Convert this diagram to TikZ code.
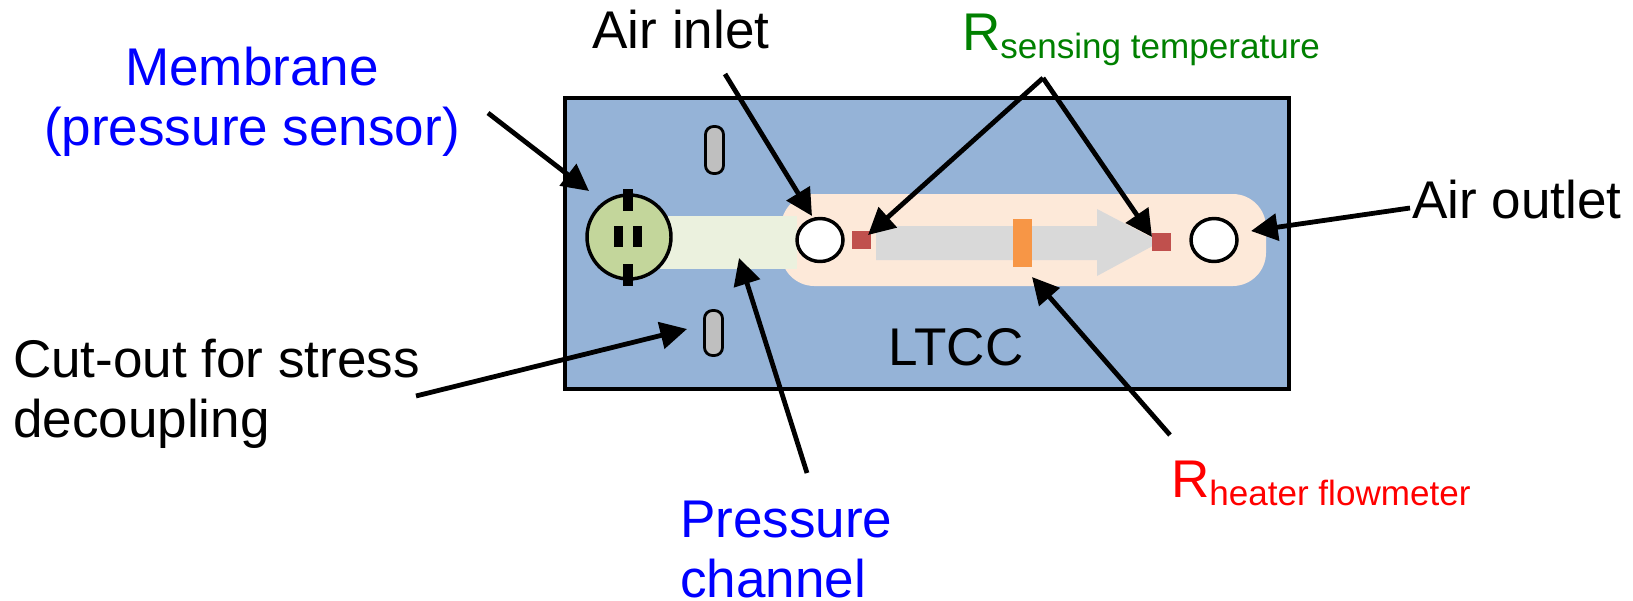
\documentclass[tikz,border=0pt]{standalone}
\usepackage{fontspec}
\setmainfont{Liberation Sans}
\usetikzlibrary{arrows.meta}
\definecolor{ltcc}{HTML}{95B3D7}
\definecolor{peach}{HTML}{FDE9D9}
\definecolor{chan}{HTML}{EBF1DE}
\definecolor{memb}{HTML}{C3D69B}
\definecolor{heat}{HTML}{F79646}
\definecolor{sens}{HTML}{C0504D}
\definecolor{flow}{HTML}{D9D9D9}
\definecolor{cut}{HTML}{BFBFBF}
\definecolor{txtblue}{HTML}{0000FF}
\definecolor{txtgreen}{HTML}{008000}
\definecolor{txtred}{HTML}{FF0000}
\newcommand{\bigfont}{\fontsize{39.8}{45}\selectfont}
\newcommand{\subtxt}[2][-6pt]{{\fontsize{26.3}{26.3}\selectfont\raisebox{#1}{#2}}}
\tikzset{
  lbl/.style={inner sep=0pt,outer sep=0pt,font=\bigfont,align=center},
  lblleft/.style={inner sep=0pt,outer sep=0pt,font=\bigfont,align=left},
  callout/.style={line width=3.6pt,-{Triangle[length=20pt,width=20pt]},black},
  outlined/.style={draw=black,line width=2.6pt},
  slot/.style={fill=cut,draw=black,line width=2.1pt,rounded corners=6pt},
  tick/.style={fill=black,draw=none}
}
\begin{document}
\begin{tikzpicture}[x=0.75pt,y=-0.75pt]
\useasboundingbox (0,0) rectangle (1633,600);
% body
\filldraw[fill=ltcc,draw=black,line width=2.4pt] (565,98) rectangle (1289,389);
\fill[peach,rounded corners=25pt] (781,194) rectangle (1266,286);
\fill[chan] (660,216) rectangle (797,269);
% flow arrow
\fill[flow] (876,226) -- (1097,226) -- (1097,209) -- (1160,242) -- (1097,276) -- (1097,260) -- (876,260) -- cycle;
\fill[heat] (1013,219) rectangle (1032,267);
\fill[sens] (852,231) rectangle (871,249);
\fill[sens] (1152,233) rectangle (1171,251);
% membrane
\node[circle,outlined,fill=memb,minimum size=63pt,inner sep=0pt,outer sep=0pt] (membrane) at (629,237) {};
\fill[tick] (623,189) rectangle (633,211);
\fill[tick] (623,264) rectangle (633,286);
\fill[tick] (614,226) rectangle (623,247);
\fill[tick] (633,226) rectangle (642,247);
% cut-outs
\filldraw[slot] (705.5,126.5) rectangle (723.5,173.5);
\filldraw[slot] (704.5,310.5) rectangle (722.5,355.5);
% ports
\filldraw[fill=white,outlined] (820,240) ellipse (23 and 21.5);
\filldraw[fill=white,outlined] (1214,240) ellipse (23 and 21.5);
% labels
\node[lbl,text=txtblue,anchor=base] (lmembrane) at (252,145) {Membrane\\(pressure sensor)};
\node[lbl,anchor=base] (linlet) at (681,48) {Air inlet};
\node[lblleft,text=txtgreen,anchor=base west] (lsensing) at (962,50) {R\subtxt{sensing temperature}};
\node[lblleft,anchor=base west] (loutlet) at (1412,218) {Air outlet};
\node[lblleft,anchor=base west] (lcut) at (13,437) {Cut-out for stress\\decoupling};
\node[lbl,anchor=base] (lltcc) at (956,365) {LTCC};
\node[lblleft,text=txtblue,anchor=base west] (lchannel) at (680,597) {Pressure\\channel};
\node[lblleft,text=txtred,anchor=base west] (lheater) at (1171,497) {R\subtxt{heater flowmeter}};
% connector ends
\coordinate (a1) at (488,113); \coordinate (t1) at (589,191);
\coordinate (a2) at (725,74); \coordinate (t2) at (812,216);
\coordinate (a3) at (1043,78); \coordinate (t3) at (868,235); \coordinate (t4) at (1152,237);
\coordinate (a5) at (1410,208); \coordinate (t5) at (1251,231);
\coordinate (a6) at (416,396); \coordinate (t6) at (687,329);
\coordinate (a7) at (807,473); \coordinate (t7) at (739,258);
\coordinate (a8) at (1170,435); \coordinate (t8) at (1032,277);
\draw[callout] (a1) -- (t1);
\draw[callout] (a2) -- (t2);
\draw[callout] (a3) -- (t3);
\draw[callout] (a3) -- (t4);
\draw[callout] (a5) -- (t5);
\draw[callout] (a6) -- (t6);
\draw[callout] (a7) -- (t7);
\draw[callout] (a8) -- (t8);
\end{tikzpicture}
\end{document}
